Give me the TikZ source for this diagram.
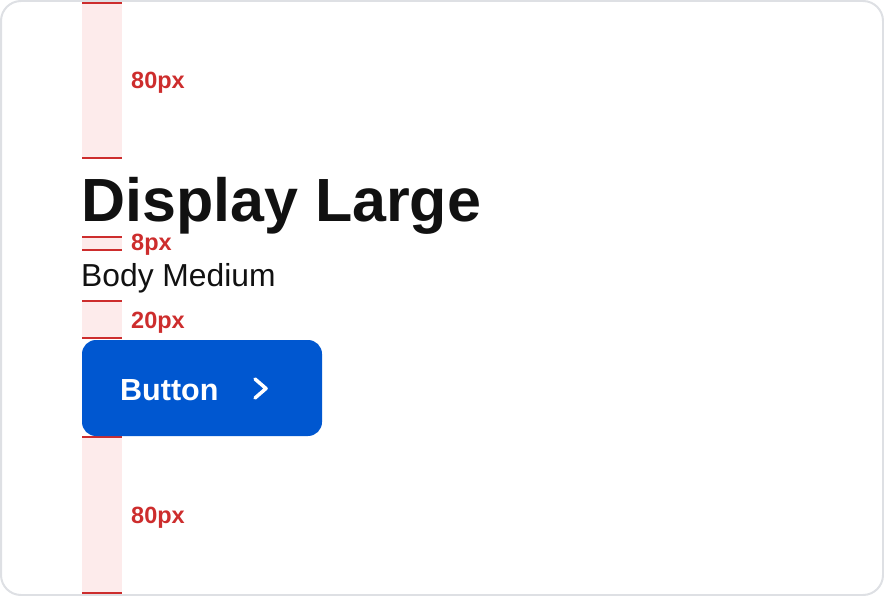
\documentclass[tikz,border=0pt]{standalone}
\usepackage{fontspec}
\setmainfont{Liberation Sans}
\usetikzlibrary{positioning}
\definecolor{cardline}{RGB}{222,224,228}
\definecolor{specred}{RGB}{205,45,45}
\definecolor{specpink}{RGB}{253,235,235}
\definecolor{btnblue}{RGB}{0,87,208}
\definecolor{inkblack}{RGB}{17,17,17}

\begin{document}
\begin{tikzpicture}
  [x=1pt,y=-1pt,
   spacer/.style={fill=specpink,draw=none},
   specline/.style={draw=specred,line width=2pt},
   speclabel/.style={anchor=base west,inner sep=0pt,text=specred,
     font=\fontsize{23.5}{26}\selectfont\bfseries},
   heading/.style={anchor=base west,inner sep=0pt,text=inkblack,
     font=\fontsize{61}{70}\selectfont\bfseries},
   bodytext/.style={anchor=base west,inner sep=0pt,text=inkblack,
     font=\fontsize{31.8}{36}\selectfont},
   btnbox/.style={rectangle,rounded corners=14pt,fill=btnblue,
     minimum width=240pt,minimum height=96pt,inner sep=0pt}]
  \useasboundingbox (0,0) rectangle (884,596);
  \draw[cardline,line width=2pt,rounded corners=20pt] (1,1) rectangle (883,595);

  % spacers: top/bottom/label/baseline
  \foreach \top/\bot/\txt/\base/\nm in {3/158/80px/89/sa,237/250/8px/251/sb,
    301/338/20px/328/sc,437/593/80px/523/sd}
  {
    \fill[spacer] (82,\top) rectangle (122,\bot);
    \draw[specline] (82,\top) -- (122,\top);
    \draw[specline] (82,\bot) -- (122,\bot);
    \node[speclabel] (\nm) at (131,\base) {\txt};
  }

  \node[heading] (disp) at (81,222) {Display Large};
  \node[bodytext] (body) at (81,287) {Body Medium};

  \node[btnbox] (btn) at (202,388) {};
  \node[anchor=base west,inner sep=0pt,text=white,
    font=\fontsize{30.5}{34}\selectfont\bfseries] (btntext) at (120,400) {Button};
  \draw[white,line width=3.5pt,line cap=round,line join=round]
    (255,379) -- (266,388.5) -- (255,398);
\end{tikzpicture}
\end{document}
